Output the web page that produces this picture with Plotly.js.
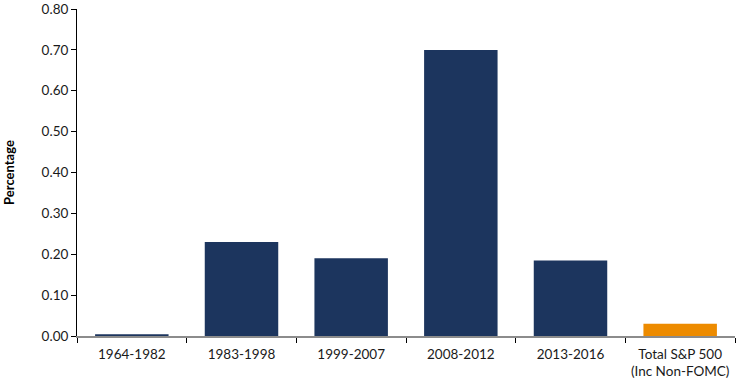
<!DOCTYPE html>
<html><head><meta charset="utf-8">
<script src="https://cdn.plot.ly/plotly-3.0.1.min.js"></script>
<style>html,body{margin:0;padding:0;background:#fff}#chart{width:738px;height:382px}</style>
</head><body><div id="chart"></div>
<script>
const categories = ["1964-1982", "1983-1998", "1999-2007", "2008-2012", "2013-2016", "Total S&P 500<br>(Inc Non-FOMC)"];
const values = [0.004, 0.23, 0.19, 0.70, 0.185, 0.03];
const barColors = ["#1C355E", "#1C355E", "#1C355E", "#1C355E", "#1C355E", "#ED8B00"];
const yTicks = [0, 0.1, 0.2, 0.3, 0.4, 0.5, 0.6, 0.7, 0.8];

const font = {family: "Lato, 'Open Sans', sans-serif", size: 13, color: "#1a1a1a"};
Plotly.newPlot("chart", [{
  type: "bar", x: categories, y: values,
  marker: {color: barColors, line: {width: 0}},
  hoverinfo: "none"
}], {
  width: 738, height: 382,
  margin: {l: 77, r: 3, t: 9, b: 46},
  bargap: 0.33,
  paper_bgcolor: "#fff", plot_bgcolor: "#fff",
  font: font,
  showlegend: false,
  xaxis: {
    type: "category", showgrid: false, zeroline: false,
    showline: true, linecolor: "#8c8c8c", linewidth: 1.5,
    ticks: "outside", tickson: "boundaries", ticklen: 5, tickcolor: "#000",
    ticklabelstandoff: 5,
    tickfont: {family: font.family, size: 13.5, color: "#1a1a1a"},
    range: [-0.5, 5.5]
  },
  yaxis: {
    range: [0, 0.8], tickvals: yTicks, tickformat: ".2f",
    showgrid: false, zeroline: false,
    showline: true, linecolor: "#000", linewidth: 1,
    ticks: "outside", ticklen: 5, tickcolor: "#000",
    tickfont: {family: font.family, size: 13.5, color: "#1a1a1a"},
    title: {text: "<b>Percentage</b>", font: {family: font.family, size: 13, color: "#000"}, standoff: 24}
  }
}, {staticPlot: true});
</script></body></html>
